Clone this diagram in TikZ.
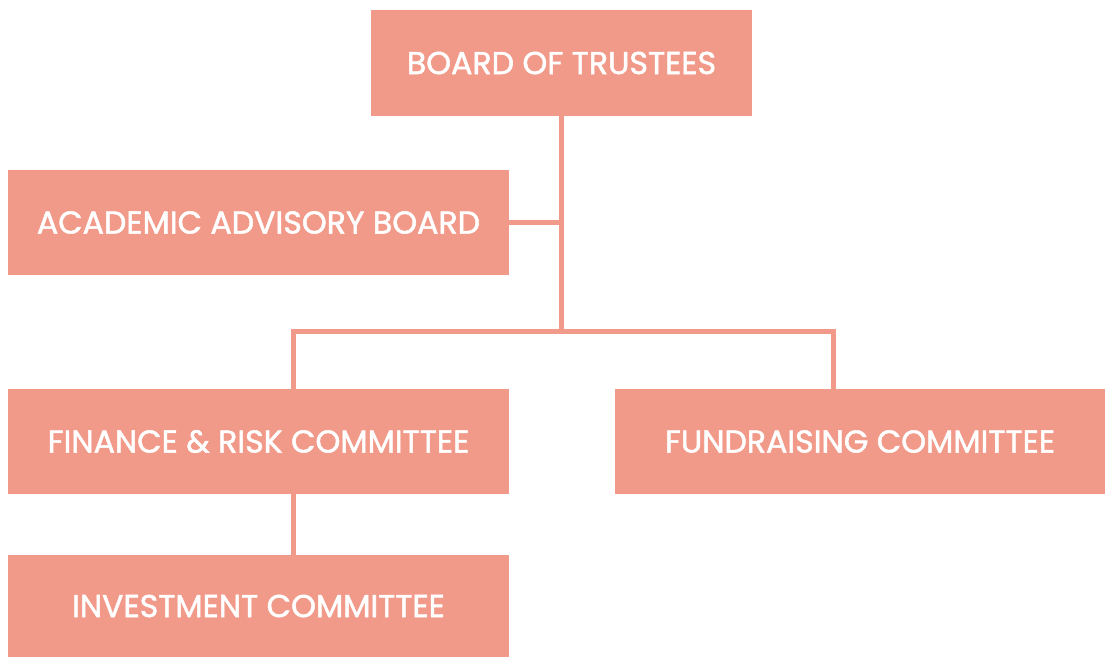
\documentclass[tikz,border=0pt]{standalone}
\usepackage{fontspec}
\setmainfont{Poppins}
\newfontfamily\boxfont{Poppins}[FakeBold=1.6]
\usetikzlibrary{positioning}
\definecolor{salmon}{HTML}{F29A8A}

\begin{document}
\begin{tikzpicture}[x=0.03cm,y=-0.03cm]

% Styles for the boxes and the lines
\tikzset{
  unit/.style={fill=salmon, text=white, inner sep=0pt, minimum height=3.15cm,
    font=\boxfont\fontsize{27}{31}\selectfont},
  link/.style={draw=salmon, line width=0.15cm}
}

% Fix the page size
\useasboundingbox (0,0) rectangle (1105,657);

% Draw boxes
\node[unit, minimum width=11.43cm, minimum height=3.18cm] (board) at (561.5,63) {BOARD OF TRUSTEES};
\node[unit, minimum width=15cm] (academic) at (258.5,222.5) {ACADEMIC ADVISORY BOARD};
\node[unit, minimum width=15cm] (finance) at (258.5,441.5) {FINANCE \& RISK COMMITTEE};
\node[unit, minimum width=14.7cm] (fund) at (860,441.5) {FUNDRAISING COMMITTEE};
\node[unit, minimum width=15cm, minimum height=3.06cm] (invest) at (258.5,606) {INVESTMENT COMMITTEE};

% Junction points
\coordinate (hub) at (561.5,331);
\coordinate (left) at (293,331);
\coordinate (right) at (833,331);

% Draw lines
\draw[link] (board.south) -- (hub);
\draw[link] (academic.east) -- (academic.east -| board.south);
\draw[link] (left |- finance.north) -- (left) -- (right) -- (right |- fund.north);
\draw[link] (left |- finance.south) -- (left |- invest.north);

\end{tikzpicture}
\end{document}
